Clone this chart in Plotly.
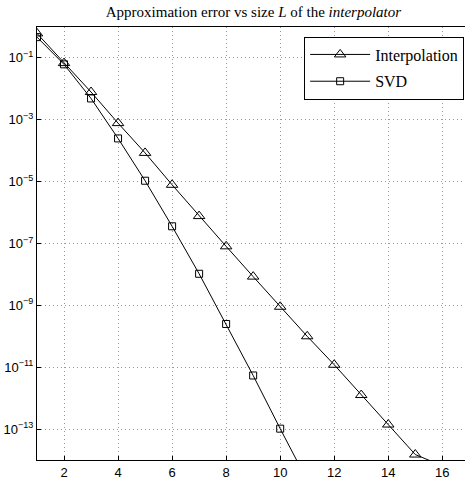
import plotly.graph_objects as go

# Interpolator size L
sizes_interp = [1, 2, 3, 4, 5, 6, 7, 8, 9, 10, 11, 12, 13, 14, 15, 16]
err_interp = [0.62, 0.068, 0.0079, 7.8e-4, 8.5e-5, 7.9e-6, 7.7e-7, 8.1e-8,
              8.5e-9, 9.0e-10, 1.0e-10, 1.2e-11, 1.26e-12, 1.4e-13, 1.5e-14, 6.5e-15]

sizes_svd = [1, 2, 3, 4, 5, 6, 7, 8, 9, 10, 11]
err_svd = [0.47, 0.062, 0.0049, 2.5e-4, 1.07e-5, 3.6e-7, 1.05e-8, 2.5e-10,
           5.4e-12, 1.03e-13, 2.2e-15]

x_ticks = [2, 4, 6, 8, 10, 12, 14, 16]
y_exps = [-1, -3, -5, -7, -9, -11, -13]

fig = go.Figure()
fig.add_trace(go.Scatter(
    x=sizes_interp, y=err_interp, name="Interpolation", mode="lines+markers",
    line=dict(color="black", width=1),
    marker=dict(symbol="triangle-up-open", size=10, color="black", line=dict(width=1)),
    legendgroup="a",
))
fig.add_trace(go.Scatter(
    x=sizes_svd, y=err_svd, name="SVD", mode="lines+markers",
    line=dict(color="black", width=1),
    marker=dict(symbol="square-open", size=7, color="black", line=dict(width=1)),
    legendgroup="b",
))

grid_style = dict(showgrid=True, gridcolor="#9a9a9a", griddash="1px,3px", gridwidth=1)

fig.update_layout(
    width=465, height=481,
    margin=dict(l=37, r=0, t=27, b=21),
    paper_bgcolor="white", plot_bgcolor="white",
    title=dict(
        text="Approximation error vs size <i>L</i> of the <i>interpolator</i>",
        font=dict(family="Liberation Serif", size=15, color="black"),
        x=0.545, xanchor="center", y=0.975, yanchor="middle",
    ),
    showlegend=True,
    legend=dict(
        x=0.998, xanchor="right", y=0.978, yanchor="top",
        bgcolor="white", bordercolor="black", borderwidth=1,
        font=dict(family="Liberation Serif", size=16, color="black"),
        traceorder="grouped", tracegroupgap=3, itemwidth=60,
    ),
    xaxis=dict(
        range=[1, 16.84], tickvals=x_ticks, ticktext=[str(v) for v in x_ticks],
        showline=True, linecolor="black", linewidth=1, mirror=True,
        ticks="inside", ticklen=4, tickcolor="black",
        zeroline=False,
        tickfont=dict(family="Liberation Sans", size=13, color="black"),
        **grid_style,
    ),
    yaxis=dict(
        type="log", range=[-14, 0],
        tickvals=[10.0 ** e for e in y_exps],
        ticktext=["10<sup>\u2212%d</sup>" % (-e) for e in y_exps],
        showline=True, linecolor="black", linewidth=1, mirror=False,
        ticks="inside", ticklen=4, tickcolor="black",
        zeroline=False,
        tickfont=dict(family="Liberation Sans", size=13, color="black"),
        **grid_style,
    ),
)

fig.write_html("out.html")
